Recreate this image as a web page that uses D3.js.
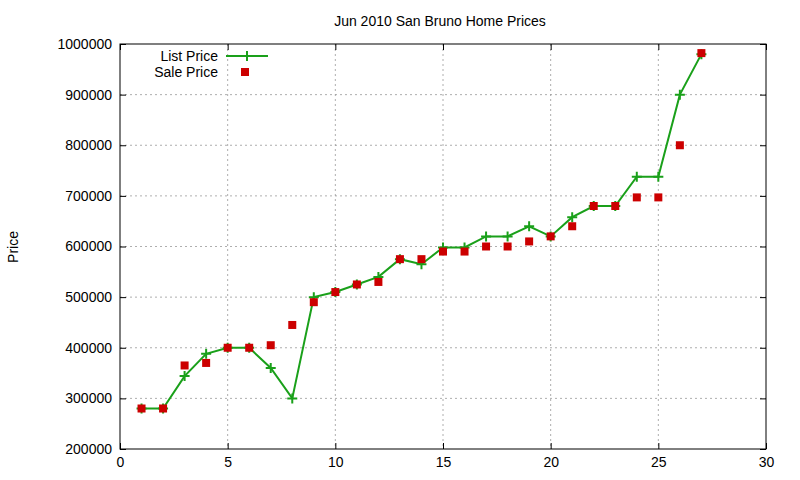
<!DOCTYPE html><html><head><meta charset="utf-8"><script src="https://cdn.jsdelivr.net/npm/d3@7"></script>
<style>body{margin:0;background:#fff}text{font-family:"Liberation Sans",Arial,sans-serif}</style></head><body><svg id="c" width="800" height="480"></svg>
<script>
const homes=d3.range(1,28);
const listPrice=[280000,280000,344000,388000,400000,400000,360000,300000,500000,510000,525000,540000,575000,565000,598000,598000,620000,620000,640000,620000,658000,680000,680000,738000,738000,900000,980000];
const salePrice=[280000,280000,365000,370000,400000,400000,405000,445000,490000,510000,525000,530000,575000,575000,590000,590000,600000,600000,610000,620000,640000,680000,680000,697000,697000,800000,982000];
const xTicks=[0,5,10,15,20,25,30];
const yTicks=d3.range(200000,1000001,100000);
const svg=d3.select("#c");
const L=120,R=766,T=44,B=449;
const x=d3.scaleLinear().domain([0,30]).range([L,R]);
const y=d3.scaleLinear().domain([200000,1000000]).range([B,T]);
const g=svg.append("g");
xTicks.slice(1,-1).forEach(v=>g.append("line").attr("x1",x(v)).attr("x2",x(v)).attr("y1",T).attr("y2",B).attr("stroke","#999").attr("stroke-dasharray","2,3").attr("stroke-width",0.8));
yTicks.slice(1,-1).forEach(v=>g.append("line").attr("x1",L).attr("x2",R).attr("y1",y(v)).attr("y2",y(v)).attr("stroke","#999").attr("stroke-dasharray","2,3").attr("stroke-width",0.8));
svg.append("g").attr("transform",`translate(0,${B})`).call(d3.axisBottom(x).tickValues(xTicks).tickSize(-6).tickPadding(8)).call(a=>{a.select(".domain").remove();a.selectAll("text").attr("font-size",14).attr("fill","#000")});
svg.append("g").attr("transform",`translate(0,${T})`).call(d3.axisTop(x).tickValues(xTicks).tickSize(-6).tickFormat("")).call(a=>a.select(".domain").remove());
svg.append("g").attr("transform",`translate(${L},0)`).call(d3.axisLeft(y).tickValues(yTicks).tickSize(-6).tickPadding(8).tickFormat(d3.format("d"))).call(a=>{a.select(".domain").remove();a.selectAll("text").attr("font-size",14).attr("fill","#000")});
svg.append("g").attr("transform",`translate(${R},0)`).call(d3.axisRight(y).tickValues(yTicks).tickSize(-6).tickFormat("")).call(a=>a.select(".domain").remove());
svg.append("rect").attr("x",L).attr("y",T).attr("width",R-L).attr("height",B-T).attr("fill","none").attr("stroke","#000");
svg.append("text").attr("x",440).attr("y",26).attr("text-anchor","middle").attr("font-size",14).text("Jun 2010 San Bruno Home Prices");
svg.append("text").attr("transform","translate(18,247) rotate(-90)").attr("text-anchor","middle").attr("font-size",14).text("Price");
const line=d3.line().x((d,i)=>x(homes[i])).y(d=>y(d));
svg.append("path").attr("d",line(listPrice)).attr("fill","none").attr("stroke","#1aa01a").attr("stroke-width",2);
const plus=(gg,cx,cy)=>gg.append("path").attr("d",`M${cx-5},${cy}H${cx+5}M${cx},${cy-5}V${cy+5}`).attr("stroke","#1aa01a").attr("stroke-width",2);
listPrice.forEach((d,i)=>plus(svg,x(homes[i]),y(d)));
salePrice.forEach((d,i)=>svg.append("rect").attr("x",x(homes[i])-4).attr("y",y(d)-4).attr("width",8).attr("height",8).attr("fill","#cc0000"));
svg.append("text").attr("x",218).attr("y",61).attr("text-anchor","end").attr("font-size",14).text("List Price");
svg.append("line").attr("x1",226).attr("x2",268).attr("y1",56).attr("y2",56).attr("stroke","#1aa01a").attr("stroke-width",2);
plus(svg,247,56);
svg.append("text").attr("x",218).attr("y",77).attr("text-anchor","end").attr("font-size",14).text("Sale Price");
svg.append("rect").attr("x",241).attr("y",68).attr("width",8).attr("height",8).attr("fill","#cc0000");
</script></body></html>
